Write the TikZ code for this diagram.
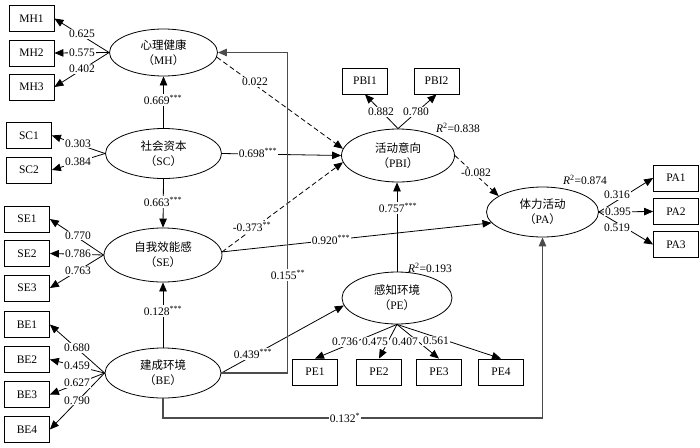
\documentclass[tikz,border=0pt]{standalone}
\usepackage{fontspec}
\setmainfont{Liberation Serif}
\newfontfamily\cjk{Noto Sans CJK SC}
\usetikzlibrary{shapes.geometric,arrows.meta}
\begin{document}
\begin{tikzpicture}[x=1pt,y=-1pt,font=\fontsize{11.5}{15}\selectfont,
  lat/.style={ellipse,draw,line width=0.8pt,inner sep=0pt,align=center},
  ind/.style={draw,line width=0.8pt,minimum width=45pt,minimum height=26pt,inner sep=0pt},
  arr/.style={line width=0.8pt,-{Triangle[length=9pt,width=7.5pt]}},
  dsh/.style={arr,dash pattern=on 5pt off 3pt},
  lbl/.style={fill=white,inner sep=0.8pt},
  bpath/.style={arr,draw=black!70,line width=1.1pt}]
\useasboundingbox (0,0) rectangle (700,447);
% latent variables
\node[lat,minimum width=108pt,minimum height=47pt] (MH) at (163.5,52.5) {{\cjk 心理健康}\\{\cjk （}MH{\cjk ）}};
\node[lat,minimum width=116pt,minimum height=50pt] (SC) at (163.5,153.5) {{\cjk 社会资本}\\{\cjk （}SC{\cjk ）}};
\node[lat,minimum width=118pt,minimum height=54pt] (SE) at (163,255) {{\cjk 自我效能感}\\{\cjk （}SE{\cjk ）}};
\node[lat,minimum width=116pt,minimum height=50pt] (BE) at (163,373) {{\cjk 建成环境}\\{\cjk （}BE{\cjk ）}};
\node[lat,minimum width=113pt,minimum height=53pt] (PBI) at (398,155.5) {{\cjk 活动意向}\\{\cjk （}PBI{\cjk ）}};
\node[lat,minimum width=112pt,minimum height=50pt] (PA) at (542.5,212) {{\cjk 体力活动}\\{\cjk （}PA{\cjk ）}};
\node[lat,minimum width=110pt,minimum height=52pt] (PE) at (397,298) {{\cjk 感知环境}\\{\cjk （}PE{\cjk ）}};
% indicators
\node[ind] (MH1) at (31.5,18.5) {MH1};
\node[ind] (MH2) at (31.5,53) {MH2};
\node[ind] (MH3) at (31.5,87) {MH3};
\node[ind] (SC1) at (29,135.5) {SC1};
\node[ind] (SC2) at (29,170) {SC2};
\node[ind] (SE1) at (27,219) {SE1};
\node[ind] (SE2) at (27,253.5) {SE2};
\node[ind] (SE3) at (27,288) {SE3};
\node[ind] (BE1) at (27,324.5) {BE1};
\node[ind] (BE2) at (27,359.5) {BE2};
\node[ind] (BE3) at (27,394.5) {BE3};
\node[ind] (BE4) at (27,429.5) {BE4};
\node[ind] (PBI1) at (365,81) {PBI1};
\node[ind] (PBI2) at (436.5,81) {PBI2};
\node[ind] (PA1) at (676,178) {PA1};
\node[ind] (PA2) at (676,211.5) {PA2};
\node[ind] (PA3) at (676,244.5) {PA3};
\node[ind] (PE1) at (315,372) {PE1};
\node[ind] (PE2) at (379,372) {PE2};
\node[ind] (PE3) at (439,372) {PE3};
\node[ind] (PE4) at (501,372) {PE4};
% measurement arrows
\foreach \i in {MH1,MH2,MH3} \draw[arr] (MH.west) -- (\i.east);
\foreach \i in {SC1,SC2} \draw[arr] (SC.west) -- (\i.east);
\foreach \i in {SE1,SE2,SE3} \draw[arr] (SE.west) -- (\i.east);
\foreach \i in {BE1,BE2,BE3,BE4} \draw[arr] (BE.west) -- (\i.east);
\foreach \i in {PBI1,PBI2} \draw[arr] (PBI.north) -- (\i.south);
\foreach \i in {PA1,PA2,PA3} \draw[arr] (PA.east) -- (\i.west);
\foreach \i in {PE1,PE2,PE3,PE4} \draw[arr] (PE.south) -- (\i.north);
% structural paths
\draw[arr] (SC.north) -- (MH.south);
\draw[arr] (SC.south) -- (SE.north);
\draw[arr] (BE.north) -- (SE.south);
\draw[arr] (SC.east) -- (PBI.west);
\draw[dsh] (MH.-5) -- (PBI.173);
\draw[dsh] (SE.3) -- (PBI.187);
\draw[arr] (SE.3) -- (PA.192);
\draw[arr] (BE.east) -- (PE.188);
\draw[arr] (PE.north) -- (PE.north |- PBI.south);
\draw[dsh] (PBI.east) -- (PA.160);
\coordinate (bot) at (0,418);
\draw[bpath] (BE.east) -- ++(66,0) |- (MH.east);
\draw[bpath] (BE.south) |- (bot -| PA.south) -- (PA.south);
% loading labels
\node[lbl] at (82,34) {0.625};
\node[lbl] at (82,52.5) {0.575};
\node[lbl] at (82,69) {0.402};
\node[lbl] at (78,143.5) {0.303};
\node[lbl] at (78,162) {0.384};
\node[lbl] at (78,235.5) {0.770};
\node[lbl] at (78,253.5) {0.786};
\node[lbl] at (78,271) {0.763};
\node[lbl] at (77,348) {0.680};
\node[lbl] at (77,365.5) {0.459};
\node[lbl] at (77,383) {0.627};
\node[lbl] at (77,400.5) {0.790};
\node[lbl] at (381,112) {0.882};
\node[lbl] at (416,112) {0.780};
\node[lbl] at (617,195) {0.316};
\node[lbl] at (618,211.5) {0.395};
\node[lbl] at (617,228) {0.519};
\node[lbl] at (345,342) {0.736};
\node[lbl] at (375,342) {0.475};
\node[lbl] at (405,342) {0.407};
\node[lbl] at (436,341) {0.561};
% path labels
\node[lbl] at (163,100) {0.669\textsuperscript{***}};
\node[lbl] at (163,202) {0.663\textsuperscript{***}};
\node[lbl] at (163,311) {0.128\textsuperscript{***}};
\node[lbl] at (258,153) {0.698\textsuperscript{***}};
\node[lbl] at (255,82) {0.022};
\node[lbl] at (252,227) {-0.373\textsuperscript{**}};
\node[lbl] at (331,240) {0.920\textsuperscript{***}};
\node[lbl] at (288,275) {0.155\textsuperscript{**}};
\node[lbl] at (253,354) {0.439\textsuperscript{***}};
\node[lbl] at (345,418) {0.132\textsuperscript{*}};
\node[lbl] at (398,208) {0.757\textsuperscript{***}};
\node[lbl] at (476,173) {-0.082};
% R squared
\node at (458,128) {\textit{R}\textsuperscript{2}=0.838};
\node at (585,180) {\textit{R}\textsuperscript{2}=0.874};
\node at (430,268) {\textit{R}\textsuperscript{2}=0.193};
\end{tikzpicture}
\end{document}
